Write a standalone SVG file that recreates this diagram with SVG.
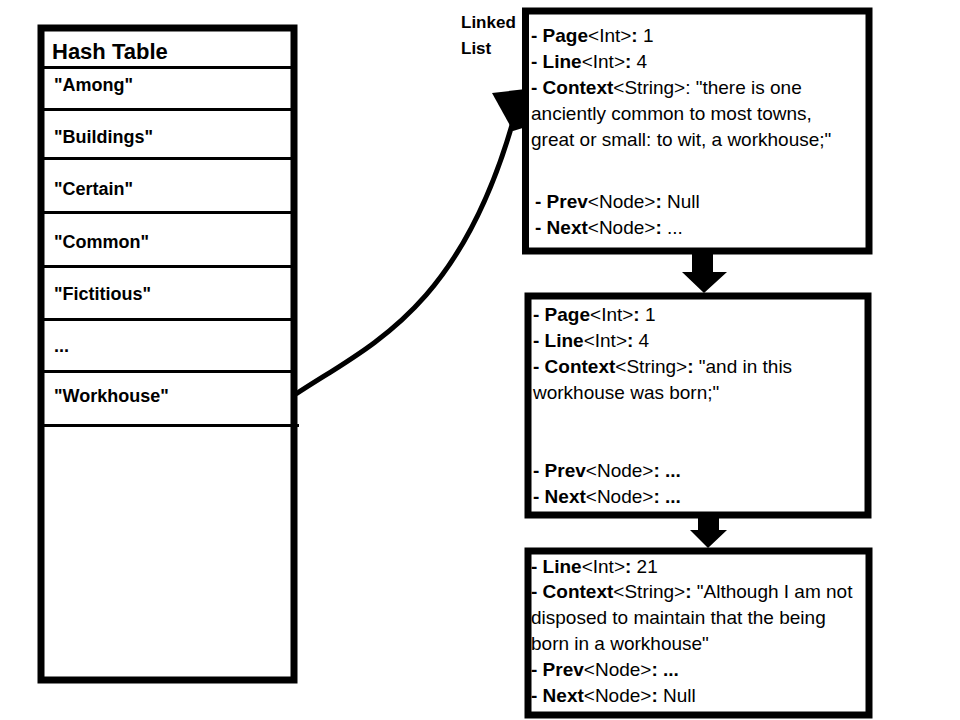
<svg xmlns="http://www.w3.org/2000/svg" width="960" height="720" viewBox="0 0 960 720">
<style>
text{font-family:"Liberation Sans",Arial,sans-serif;fill:#000}
.key{font-size:18px;font-weight:bold}
.title{font-size:22px;font-weight:bold}
.lbl{font-size:17px;font-weight:bold}
.t{font-size:19px}
.box{fill:#fff;stroke:#000;stroke-width:7}
.row{stroke:#000;stroke-width:3}
</style>
<rect width="960" height="720" fill="#fff"/>
<g id="hash-table">
<rect class="box" x="41" y="28" width="253" height="652" stroke-width="8"/>
<g class="rows">
<line class="row" x1="44" y1="67.5" x2="291" y2="67.5"/>
<line class="row" x1="44" y1="109.5" x2="291" y2="109.5"/>
<line class="row" x1="44" y1="158.5" x2="291" y2="158.5"/>
<line class="row" x1="44" y1="212.5" x2="291" y2="212.5"/>
<line class="row" x1="44" y1="266.5" x2="291" y2="266.5"/>
<line class="row" x1="44" y1="319.5" x2="291" y2="319.5"/>
<line class="row" x1="44" y1="371.5" x2="291" y2="371.5"/>
<line class="row" x1="44" y1="425.5" x2="299" y2="425.5"/>
</g>
<text class="title" x="52" y="59">Hash Table</text>
<text class="key" x="54" y="91">"Among"</text>
<text class="key" x="54" y="143">"Buildings"</text>
<text class="key" x="54" y="195">"Certain"</text>
<text class="key" x="54" y="248">"Common"</text>
<text class="key" x="54" y="300">"Fictitious"</text>
<text class="key" x="54" y="352">...</text>
<text class="key" x="54" y="402">"Workhouse"</text>
</g>
<g id="linked-list-label">
<text class="lbl" x="461" y="28">Linked</text>
<text class="lbl" x="461" y="54">List</text>
</g>
<g id="node1">
<rect class="box" x="525.5" y="11" width="343.5" height="240"/>
<text class="t" x="531" y="42"><tspan font-weight="bold">- Page</tspan>&lt;Int&gt;<tspan font-weight="bold">:</tspan> 1</text>
<text class="t" x="531" y="68"><tspan font-weight="bold">- Line</tspan>&lt;Int&gt;<tspan font-weight="bold">:</tspan> 4</text>
<text class="t" x="531" y="94"><tspan font-weight="bold">- Context</tspan>&lt;String&gt;: "there is one</text>
<text class="t" x="531" y="120">anciently common to most towns,</text>
<text class="t" x="531" y="146">great or small: to wit, a workhouse;"</text>
<text class="t" x="535" y="208"><tspan font-weight="bold">- Prev</tspan>&lt;Node&gt;<tspan font-weight="bold">:</tspan> Null</text>
<text class="t" x="535" y="234"><tspan font-weight="bold">- Next</tspan>&lt;Node&gt;<tspan font-weight="bold">:</tspan> ...</text>
</g>
<g id="node2">
<rect class="box" x="528" y="296" width="340" height="219" stroke-width="6"/>
<text class="t" x="533" y="321"><tspan font-weight="bold">- Page</tspan>&lt;Int&gt;<tspan font-weight="bold">:</tspan> 1</text>
<text class="t" x="533" y="347"><tspan font-weight="bold">- Line</tspan>&lt;Int&gt;<tspan font-weight="bold">:</tspan> 4</text>
<text class="t" x="533" y="373"><tspan font-weight="bold">- Context</tspan>&lt;String&gt;<tspan font-weight="bold">:</tspan> "and in this</text>
<text class="t" x="533" y="399">workhouse was born;"</text>
<text class="t" x="533" y="477"><tspan font-weight="bold">- Prev</tspan>&lt;Node&gt;<tspan font-weight="bold">: ...</tspan></text>
<text class="t" x="533" y="503"><tspan font-weight="bold">- Next</tspan>&lt;Node&gt;<tspan font-weight="bold">: ...</tspan></text>
</g>
<g id="node3">
<rect class="box" x="528" y="551" width="341" height="164" stroke-width="6"/>
<text class="t" x="531" y="573"><tspan font-weight="bold">- Line</tspan>&lt;Int&gt;<tspan font-weight="bold">:</tspan> 21</text>
<text class="t" x="531" y="598"><tspan font-weight="bold">- Context</tspan>&lt;String&gt;<tspan font-weight="bold">:</tspan> "Although I am not</text>
<text class="t" x="531" y="624">disposed to maintain that the being</text>
<text class="t" x="531" y="650">born in a workhouse"</text>
<text class="t" x="531" y="676"><tspan font-weight="bold">- Prev</tspan>&lt;Node&gt;<tspan font-weight="bold">: ...</tspan></text>
<text class="t" x="531" y="702"><tspan font-weight="bold">- Next</tspan>&lt;Node&gt;<tspan font-weight="bold">:</tspan> Null</text>
</g>
<g id="connectors">
<path d="M296,394 C370,345 460,310 514,118" fill="none" stroke="#000" stroke-width="5"/>
<polygon points="492,93 526,89 526,127 513,131" fill="#000"/>
<polygon points="692,254 713,254 713,272 727,272 704,293 682,272 692,272" fill="#000"/>
<polygon points="698,517 719,517 719,530 727,530 708,548 690,530 698,530" fill="#000"/>
</g>
</svg>
